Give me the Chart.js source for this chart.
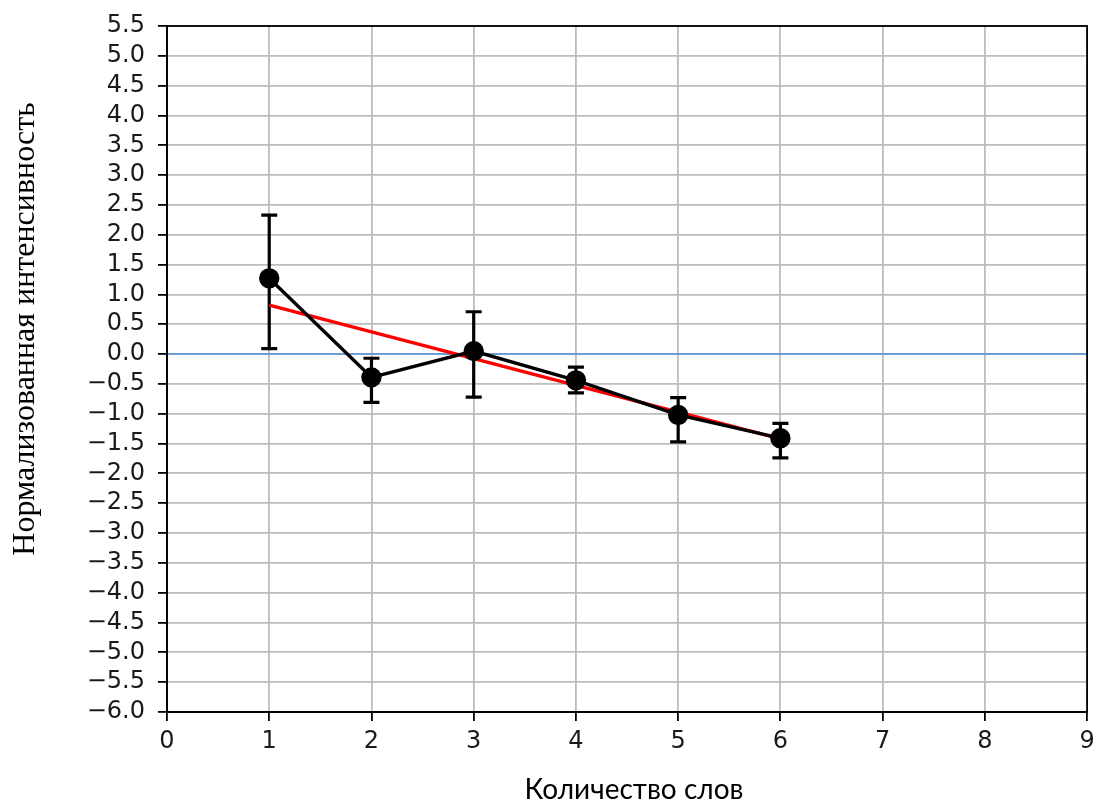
<!DOCTYPE html>
<html>
<head>
<meta charset="utf-8">
<script src="https://cdn.jsdelivr.net/npm/chart.js@4/dist/chart.umd.min.js"></script>
<style>
html,body{margin:0;padding:0;background:#fff;}
#wrap{width:1099px;height:805px;}
</style>
</head>
<body>
<div id="wrap"><canvas id="mycanvas" width="1099" height="805"></canvas></div>
<script>
// data
var words = [1, 2, 3, 4, 5, 6];
var intensity = [1.27, -0.39, 0.05, -0.44, -1.02, -1.41];
var errTop = [2.33, -0.07, 0.71, -0.22, -0.73, -1.16];
var errBottom = [0.09, -0.81, -0.72, -0.65, -1.47, -1.74];
var fitX = [1, 6];
var fitY = [0.82, -1.42];
var zeroX = [0, 9];
var zeroY = [0, 0];
var xMin = 0, xMax = 9, xStep = 1;
var yMin = -6, yMax = 5.5, yStep = 0.5;
var xTitle = 'Количество слов';
var yTitle = 'Нормализованная интенсивность';

function pts(xs, ys) {
	var out = [];
	for (var i in xs) {
		out.push({x: xs[i], y: ys[i]});
	}
	return out;
}

// error bars drawn with the chart's own scales
var errorBars = {
	id: 'errorBars',
	beforeDatasetsDraw: function(chart) {
		var ctx = chart.ctx;
		var xs = chart.scales.x, ys = chart.scales.y;
		ctx.save();
		ctx.strokeStyle = '#000';
		ctx.lineWidth = 3.2;
		for (var i = 0; i < words.length; i++) {
			var px = xs.getPixelForValue(words[i]);
			var top = ys.getPixelForValue(errTop[i]);
			var bot = ys.getPixelForValue(errBottom[i]);
			ctx.beginPath();
			ctx.moveTo(px, top); ctx.lineTo(px, bot);
			ctx.moveTo(px - 8, top); ctx.lineTo(px + 8, top);
			ctx.moveTo(px - 8, bot); ctx.lineTo(px + 8, bot);
			ctx.stroke();
		}
		ctx.restore();
	}
};

// full box round the plot, and both axis titles
var frame = {
	id: 'frame',
	afterDraw: function(chart) {
		var ctx = chart.ctx;
		var a = chart.chartArea;
		ctx.save();
		ctx.strokeStyle = '#000';
		ctx.lineWidth = 1.8;
		ctx.strokeRect(a.left, a.top, a.right - a.left, a.bottom - a.top);
		ctx.fillStyle = '#000';
		ctx.textAlign = 'center';
		ctx.textBaseline = 'alphabetic';
		ctx.font = '28px Lato';
		ctx.fillText(xTitle, 634, 799);
		ctx.translate(34, 329);
		ctx.rotate(-Math.PI / 2);
		ctx.font = '32px "Liberation Serif"';
		ctx.fillText(yTitle, 0, 0);
		ctx.restore();
	}
};

var chartdata = {
	datasets: [
		{
			label: 'intensity',
			data: pts(words, intensity),
			borderColor: '#000',
			backgroundColor: '#000',
			borderWidth: 3.4,
			pointRadius: 8.5,
			pointHoverRadius: 8.5,
			order: 1
		},
		{
			label: 'fit',
			data: pts(fitX, fitY),
			borderColor: '#ff0000',
			borderWidth: 3.4,
			pointRadius: 0,
			order: 2
		},
		{
			label: 'zero',
			data: pts(zeroX, zeroY),
			borderColor: '#4f94d9',
			borderWidth: 1.5,
			pointRadius: 0,
			order: 3
		}
	]
};

var tickFont = {family: 'DejaVu Sans', size: 24};

var options = {
	responsive: false,
	animation: false,
	layout: {padding: {top: 26, right: 10, left: 0, bottom: 0}},
	plugins: {legend: {display: false}, tooltip: {enabled: false}},
	scales: {
		x: {
			type: 'linear',
			min: xMin, max: xMax,
			afterFit: function(s) { s.height = 93; s.paddingLeft = 0; s.paddingRight = 0; },
			grid: {color: '#bdbdbd', lineWidth: 1.8, tickColor: '#000', tickLength: 9},
			border: {color: '#000', width: 1.8},
			ticks: {stepSize: xStep, color: '#1a1a1a', font: tickFont, padding: 6, autoSkip: false, maxRotation: 0}
		},
		y: {
			min: yMin, max: yMax,
			afterFit: function(s) { s.width = 167; s.paddingTop = 0; s.paddingBottom = 0; },
			grid: {color: '#bdbdbd', lineWidth: 1.8, tickColor: '#000', tickLength: 9},
			border: {color: '#000', width: 1.8},
			ticks: {
				stepSize: yStep, color: '#1a1a1a', font: tickFont, padding: 13, autoSkip: false,
				callback: function(v) { return v.toFixed(1).replace('-', '\u2212'); }
			}
		}
	}
};

var ctx = document.getElementById('mycanvas');
var lineGraph = new Chart(ctx, {
	type: 'line',
	data: chartdata,
	options: options,
	plugins: [errorBars, frame]
});
</script>
</body>
</html>
